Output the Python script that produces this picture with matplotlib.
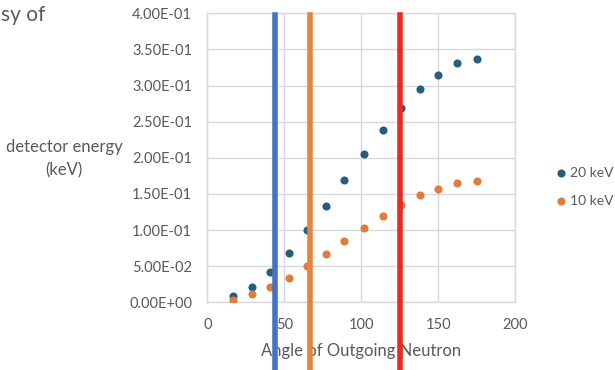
import matplotlib
matplotlib.use("Agg")
import matplotlib.pyplot as plt
from matplotlib.ticker import FuncFormatter, MultipleLocator

# Scattering angle of the outgoing neutron (degrees)
angles = [17, 29, 41, 53, 65, 77, 89, 102, 114, 126, 138, 150, 162, 175]
# Energy deposited in the detector (keV)
energy_20kev = [0.0087, 0.0216, 0.0424, 0.0682, 0.100, 0.1328, 0.1693,
                0.2053, 0.2385, 0.2685, 0.2957, 0.3151, 0.3308, 0.3363]
energy_10kev = [0.0032, 0.011, 0.0216, 0.034, 0.0502, 0.0668, 0.0853,
                0.1028, 0.1194, 0.1347, 0.148, 0.1572, 0.1647, 0.1679]
series_labels = ["20 keV", "10 keV"]
# Marker angles drawn as vertical bars
cut_angles = [44, 67, 125.5]
cut_colors = ["#4472C4", "#E5833F", "#EA2B1F"]

text_gray = "#595959"
grid_gray = "#D9D9D9"
font = "Lato"

fig = plt.figure(figsize=(6.15, 3.7), dpi=100)
ax = fig.add_axes([0.3371, 0.183, 0.5003, 0.781])

ax.scatter(angles, energy_20kev, s=34, color="#255E7E", label=series_labels[0], zorder=3, linewidths=0)
ax.scatter(angles, energy_10kev, s=34, color="#E07B39", label=series_labels[1], zorder=3, linewidths=0)

ax.set_xlim(0, 200)
ax.set_ylim(0, 0.4)
ax.xaxis.set_major_locator(MultipleLocator(50))
ax.yaxis.set_major_locator(MultipleLocator(0.05))


def sci_fmt(v, pos):
    s = f"{v:.2E}"
    mant, exp = s.split("E")
    sign = exp[0]
    return f"{mant}E{sign}{int(exp[1:]):02d}"


ax.yaxis.set_major_formatter(FuncFormatter(sci_fmt))
ax.grid(True, color=grid_gray, linewidth=1, zorder=0)
ax.set_axisbelow(True)
for sp in ax.spines.values():
    sp.set_color(grid_gray)
    sp.set_linewidth(1)
ax.tick_params(length=0, labelsize=10.5, labelcolor=text_gray)
ax.tick_params(axis="y", pad=11)
ax.tick_params(axis="x", pad=11)
for lab in ax.get_xticklabels() + ax.get_yticklabels():
    lab.set_fontfamily(font)

for xv, c in zip(cut_angles, cut_colors):
    ax.axvline(xv, ymin=-0.25, ymax=0.994, color=c, linewidth=4, clip_on=False, zorder=4)

ax.set_xlabel("Angle of Outgoing Neutron", fontsize=12, color=text_gray,
              fontfamily=font, labelpad=8)

fig.text(0.104, 1 - 147 / 370, "detector energy", ha="center", va="center",
         fontsize=12, color=text_gray, fontfamily=font)
fig.text(0.104, 1 - 170 / 370, "(keV)", ha="center", va="center",
         fontsize=12, color=text_gray, fontfamily=font)
fig.text(0.002, 0.96, "sy of", ha="left", va="center", fontsize=15,
         color=text_gray, fontfamily=font)

leg = fig.legend(loc="center left", bbox_to_anchor=(557 / 615, 1 - 187 / 370),
                 frameon=False, fontsize=10, handletextpad=0.3, labelspacing=1.15,
                 handlelength=0.6, borderaxespad=0, borderpad=0)
for t in leg.get_texts():
    t.set_color(text_gray)
    t.set_fontfamily(font)

fig.savefig("out.png", dpi=100)
